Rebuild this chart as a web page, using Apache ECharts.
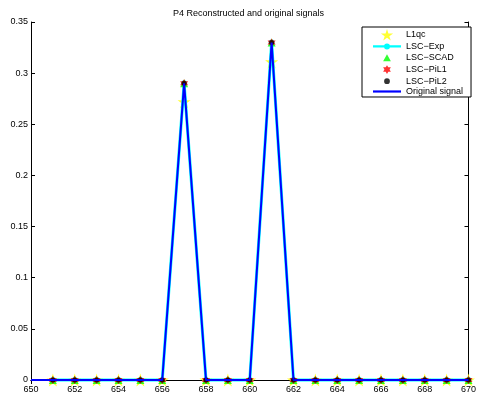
<!DOCTYPE html>
<html><head><meta charset="utf-8">
<script src="https://cdn.jsdelivr.net/npm/echarts@6/dist/echarts.min.js"></script>
<style>html,body{margin:0;padding:0;background:#fff}#c{width:479px;height:398px}</style>
</head><body><div id="c"></div>
<script>
const xs        = [651,652,653,654,655,656,657,658,659,660,661,662,663,664,665,666,667,668,669,670];
const l1qc      = [0,0,0,0,0,0,0.272,0,0,0,0.311,0,0,0,0,0,0,0,0,0];
const lscExp    = [0,0,0,0,0,0,0.29,0,0,0,0.33,0,0,0,0,0,0,0,0,0];
const lscScad   = [0,0,0,0,0,0,0.29,0,0,0,0.33,0,0,0,0,0,0,0,0,0];
const lscPil1   = [0,0,0,0,0,0,0.29,0,0,0,0.33,0,0,0,0,0,0,0,0,0];
const lscPil2   = [0,0,0,0,0,0,0.29,0,0,0,0.33,0,0,0,0,0,0,0,0,0];
const origX     = [650,651,652,653,654,655,656,657,658,659,660,661,662,663,664,665,666,667,668,669,670];
const origSig   = [0,0,0,0,0,0,0,0.29,0,0,0,0.33,0,0,0,0,0,0,0,0,0];
const titleText = 'P4 Reconstructed and original signals';

const pent = 'path://M100,0 L122.45,69.1 L195.1,69.1 L136.3,111.8 L158.8,180.9 L100,138.2 L41.2,180.9 L63.7,111.8 L4.9,69.1 L77.55,69.1 Z';
const hexa = 'path://M100,0 L128.87,50 L186.6,50 L157.7,100 L186.6,150 L128.87,150 L100,200 L71.13,150 L13.4,150 L42.3,100 L13.4,50 L71.13,50 Z';
// legend icons padded inside a larger invisible box so they render smaller
const triIcon = 'path://M0,0 L0.01,0 M120,120 L120.01,120 M60,22 L100,94 L20,94 Z';
const hexIcon = 'path://M0,0 L0.01,0 M260,260 L260.01,260 M130,30 L158.87,80 L216.6,80 L187.7,130 L216.6,180 L158.87,180 L130,230 L101.13,180 L43.4,180 L72.3,130 L43.4,80 L101.13,80 Z';
const dotIcon = 'path://M0,0 L0.01,0 M120,120 L120.01,120 M60,30 A30,30 0 1,1 59.99,30 Z';
const expIcon = 'path://M0,0 L0.01,0 M280,116 L280.01,116 M0,47 L280,47 L280,69 L0,69 Z M140,28 A30,30 0 1,1 139.99,28 Z';
const lineIcon = 'path://M0,0 L280,0 L280,22 L0,22 Z';
const zip = (a,b)=>a.map((v,i)=>[v,b[i]]);
const F = 'Liberation Sans, Arial, sans-serif';
const axisCommon = {
  axisLine:{show:true,lineStyle:{color:'#000',width:1}},
  axisTick:{show:true,inside:true,length:4,lineStyle:{color:'#000'}},
  splitLine:{show:false}
};
const chart = echarts.init(document.getElementById('c'),null,{renderer:'canvas'});
chart.setOption({
  animation:false,
  backgroundColor:'#fff',
  textStyle:{fontFamily:F},
  title:{text:titleText,left:168,top:4,textStyle:{fontSize:9,fontWeight:'normal',color:'#000',fontFamily:F}},
  grid:{left:31,right:7,top:22,bottom:18,containLabel:false},
  xAxis:[
    Object.assign({type:'value',min:650,max:670,interval:2,position:'bottom',
      axisLabel:{color:'#000',fontSize:9,margin:5,fontFamily:F}},axisCommon),
    Object.assign({type:'value',min:650,max:670,interval:2,position:'top',
      axisLabel:{show:false}},axisCommon)
  ],
  yAxis:[
    Object.assign({type:'value',min:0,max:0.35,interval:0.05,position:'left',
      axisLabel:{color:'#000',fontSize:9,margin:3,fontFamily:F}},axisCommon),
    Object.assign({type:'value',min:0,max:0.35,interval:0.05,position:'right',
      axisLabel:{show:false}},axisCommon)
  ],
  legend:{
    orient:'vertical',left:362,top:27,
    backgroundColor:'#fff',borderColor:'#000',borderWidth:1,
    padding:[2,8,1,11],itemWidth:28,itemHeight:11.6,itemGap:0,
    textStyle:{fontSize:9,color:'#000',fontFamily:F},
    data:[
      {name:'L1qc',icon:pent},
      {name:'LSC\u2212Exp',icon:expIcon},
      {name:'LSC\u2212SCAD',icon:triIcon},
      {name:'LSC\u2212PiL1',icon:hexIcon},
      {name:'LSC\u2212PiL2',icon:dotIcon},
      {name:'Original signal',icon:lineIcon}
    ]
  },
  series:[
    {name:'L1qc',type:'scatter',clip:false,symbol:pent,symbolSize:13,
     itemStyle:{color:'#ffff00'},data:zip(xs,l1qc),z:2},
    {name:'LSC\u2212Exp',type:'line',clip:false,symbol:'circle',symbolSize:6,showAllSymbol:true,
     itemStyle:{color:'#00ffff'},lineStyle:{color:'#00ffff',width:3},data:zip(xs,lscExp),z:3},
    {name:'LSC\u2212SCAD',type:'scatter',clip:false,symbol:'triangle',symbolSize:8,
     itemStyle:{color:'#00ff00'},data:zip(xs,lscScad),z:4},
    {name:'LSC\u2212PiL1',type:'scatter',clip:false,symbol:hexa,symbolSize:8,
     itemStyle:{color:'#ff0000'},data:zip(xs,lscPil1),z:5},
    {name:'LSC\u2212PiL2',type:'scatter',clip:false,symbol:'circle',symbolSize:5,
     itemStyle:{color:'#000000'},data:zip(xs,lscPil2),z:6},
    {name:'Original signal',type:'line',clip:false,symbol:'none',
     itemStyle:{color:'#0000ff'},lineStyle:{color:'#0000ff',width:2},data:zip(origX,origSig),z:7}
  ]
});
</script></body></html>
